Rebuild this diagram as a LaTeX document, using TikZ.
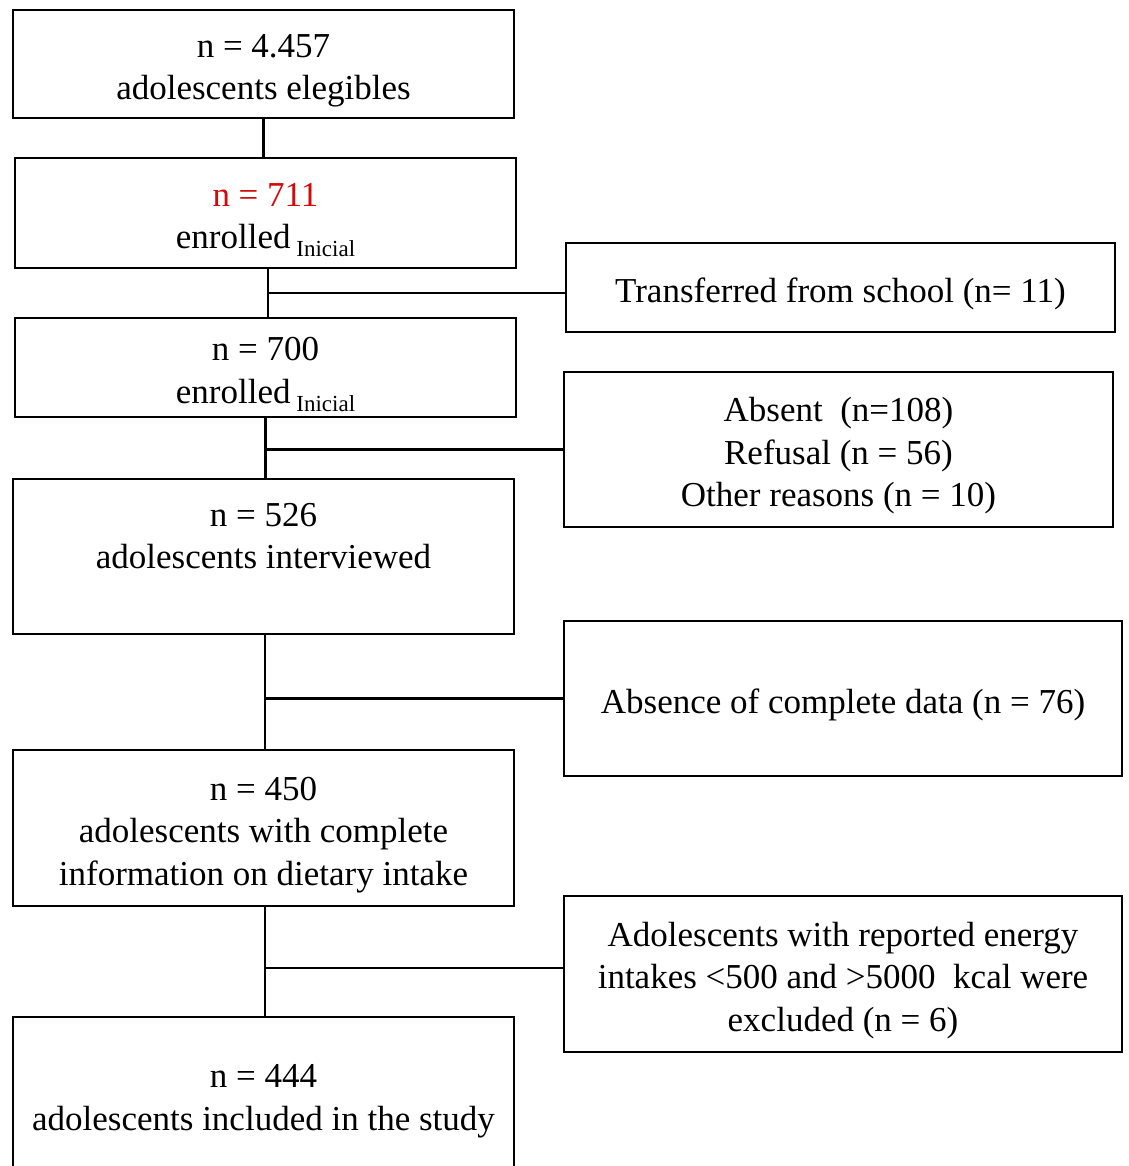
\documentclass[tikz,border=0pt]{standalone}
\usepackage{fontspec}
\setmainfont{Liberation Serif}
\definecolor{nred}{RGB}{210,10,10}
\newcommand{\inic}{\,\raisebox{-8pt}{\fontsize{23}{23}\selectfont Inicial}}
\newcommand{\tp}{\rule{0pt}{37pt}}
\begin{document}
\begin{tikzpicture}
   [x=1pt,y=-1pt,
    box/.style={draw,line width=2pt,rectangle,align=center,inner sep=0pt,
                font=\fontsize{35}{42.5}\selectfont},
    lbox/.style={box,minimum width=501pt},
    rbox/.style={box,minimum width=549pt},
    link/.style={line width=2.5pt}]
   \useasboundingbox[fill=white] (0,0) rectangle (1128,1166);

   \node[lbox,minimum height=108pt] (elig) at (263.5,64) {\tp n = 4.457\\adolescents elegibles};
   \node[lbox,minimum height=110pt] (enr1) at (265.5,213) {\tp\textcolor{nred}{n = 711}\\enrolled\inic};
   \node[rbox,minimum height=89pt] (trans) at (840.5,287.5) {\tp Transferred from school (n= 11)};
   \node[lbox,minimum height=99pt] (enr2) at (265.5,367.5) {\tp n = 700\\enrolled\inic};
   \node[rbox,minimum height=155pt] (abs) at (838.5,449.5) {\tp Absent\ \ (n=108)\\Refusal (n = 56)\\Other reasons (n = 10)};
   \node[lbox,minimum height=155pt] (intv) at (263.5,556.5) {\tp n = 526\\adolescents interviewed\\\strut};
   \node[rbox,minimum width=558pt,minimum height=155pt] (miss) at (843,698.5) {\tp Absence of complete data (n = 76)};
   \node[lbox,minimum height=156pt] (diet) at (263.5,828) {\tp n = 450\\adolescents with complete\\information on dietary intake};
   \node[rbox,minimum width=558pt,minimum height=156pt] (excl) at (843,974) {\tp Adolescents with reported energy\\intakes <500 and >5000\ \ kcal were\\excluded (n = 6)};
   \node[lbox,minimum height=155pt] (incl) at (263.5,1094.5) {\tp n = 444\\adolescents included in the study};

   % trunk
   \draw[link] (elig.south) -- (elig.south |- enr1.north);
   \draw[link] ([xshift=2.5pt]enr1.south) -- ([xshift=2.5pt]enr1.south |- enr2.north);
   \draw[link] (enr2.south) -- (enr2.south |- intv.north);
   \draw[link] ([xshift=1.5pt]intv.south) -- ([xshift=1.5pt]intv.south |- diet.north);
   \draw[link] ([xshift=1.5pt]diet.south) -- ([xshift=1.5pt]diet.south |- incl.north);

   % exclusions
   \draw[link] ([xshift=2.5pt]enr1.south |- trans.west) ++(0,5.5) -- ([yshift=-5.5pt]trans.west);
   \draw[link] (enr2.south |- abs.west) -- (abs.west);
   \draw[link] ([xshift=1.5pt]intv.south |- miss.west) -- (miss.west);
   \draw[link] ([xshift=1.5pt]diet.south |- excl.west) ++(0,-6) -- ([yshift=6pt]excl.west);
\end{tikzpicture}
\end{document}
